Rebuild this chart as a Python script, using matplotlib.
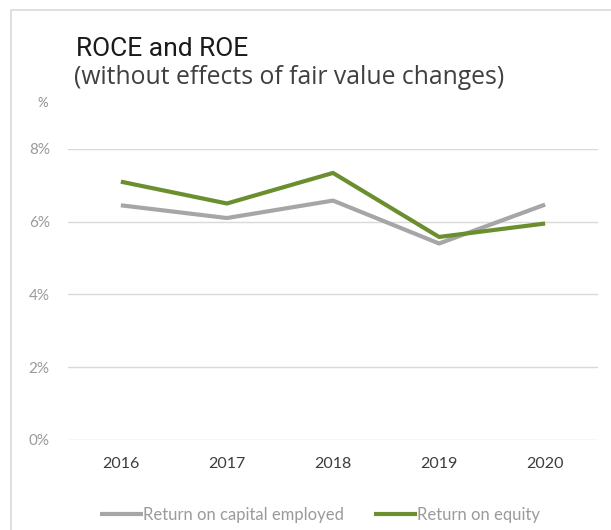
import matplotlib
matplotlib.use("Agg")
import matplotlib.pyplot as plt
from matplotlib.patches import Rectangle

years = ["2016", "2017", "2018", "2019", "2020"]
roce = [6.45, 6.1, 6.58, 5.4, 6.47]
roe = [7.1, 6.5, 7.34, 5.58, 5.95]
yticks = [0, 2, 4, 6, 8]

plt.rcParams["font.family"] = ["Lato", "DejaVu Sans"]

fig = plt.figure(figsize=(6.11, 5.30), dpi=100)
ax = fig.add_axes([0.111, 0.17, 0.868, 0.549])

# light frame round the chart (right/bottom cut off like the source)
fig.patches.append(Rectangle((11 / 611, -0.05), 1.2, 1 - 10 / 530 + 0.05,
                             transform=fig.transFigure, fill=False,
                             edgecolor="#d9d9d9", linewidth=1.2))

x = range(len(years))
ax.plot(x, roce, color="#a6a6a6", linewidth=3.0, label="Return on capital employed",
        solid_capstyle="butt")
ax.plot(x, roe, color="#6b8f2e", linewidth=3.0, label="Return on equity",
        solid_capstyle="butt")

ax.set_xlim(-0.5, len(years) - 0.5)
ax.set_ylim(0, 8)
ax.set_yticks(yticks)
ax.set_yticklabels([f"{v}%" for v in yticks], color="#9a9a9a", fontsize=11)
ax.set_xticks(list(x))
ax.set_xticklabels(years, color="#3c3c3c", fontsize=11.5)
ax.tick_params(axis="y", length=0, pad=13)
ax.tick_params(axis="x", length=0, pad=12)
ax.grid(axis="y", color="#d9d9d9", linewidth=1)
ax.set_axisbelow(True)
for s in ax.spines.values():
    s.set_visible(False)

fig.text(76 / 611, 1 - 49 / 530, "ROCE and ROE", fontsize=19, color="#1a1a1a",
         va="center", ha="left", family=["Liberation Sans Narrow", "Roboto"])
fig.text(74 / 611, 1 - 77 / 530, "(without effects of fair value changes)",
         fontsize=17.8, color="#404040", va="center", ha="left",
         family=["Open Sans", "DejaVu Sans"])
fig.text(37 / 611, 1 - 103 / 530, "%", fontsize=9.5, color="#8c8c8c",
         va="center", ha="left")

fig.legend(loc="center", bbox_to_anchor=(0.524, 1 - 515 / 530), ncol=2,
           frameon=False, fontsize=12, handlelength=2.6, handletextpad=0.0,
           columnspacing=1.8, labelcolor="#9a9a9a")

fig.savefig("out.png", dpi=100, facecolor="white")
